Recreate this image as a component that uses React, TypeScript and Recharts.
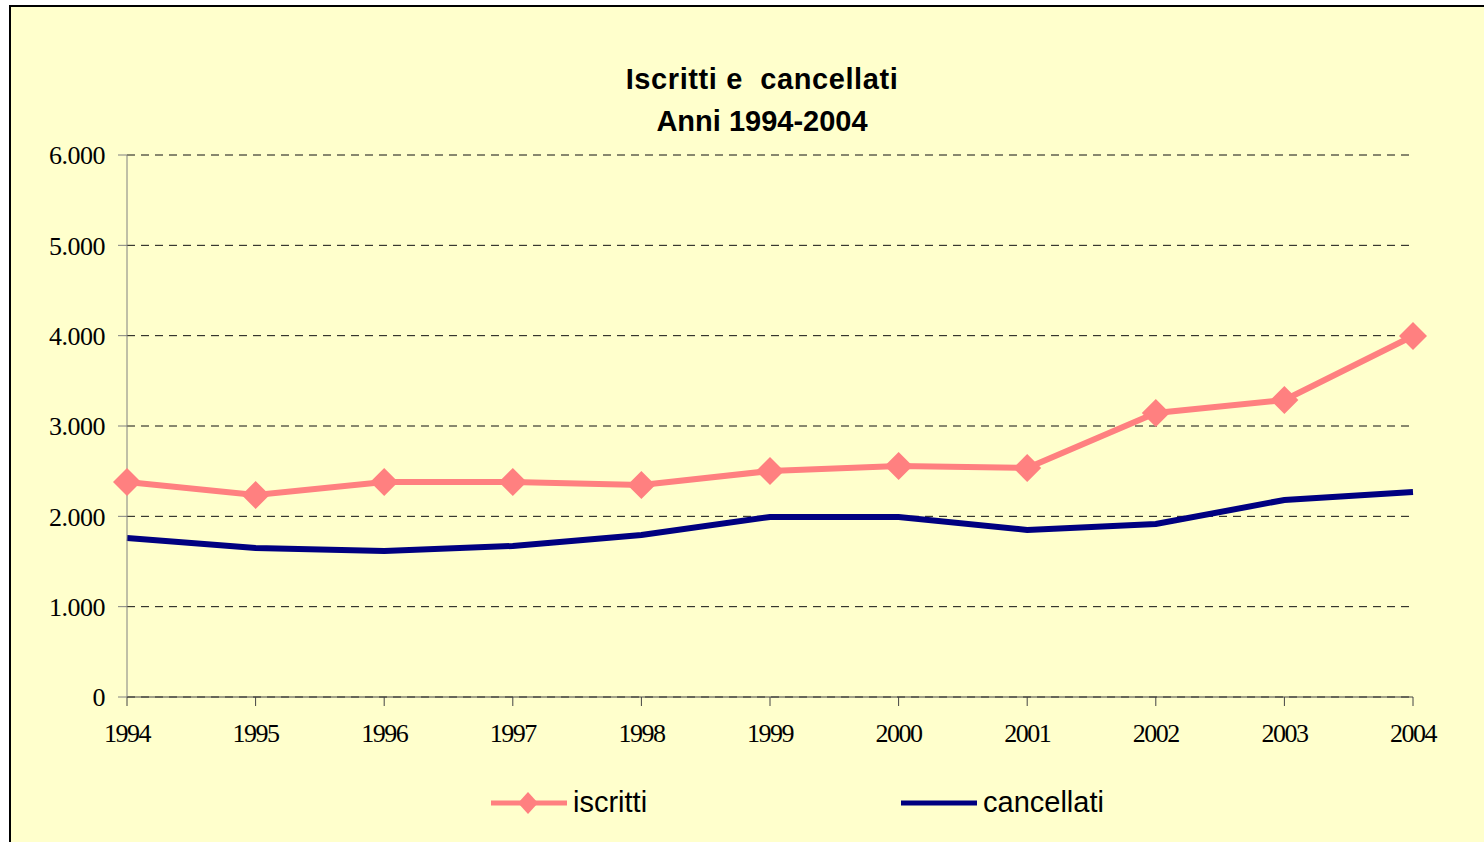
import React from "react";
import { LineChart, Line, XAxis, YAxis, CartesianGrid } from "recharts";

const years = ["1994", "1995", "1996", "1997", "1998", "1999", "2000", "2001", "2002", "2003", "2004"];
const iscritti = [2380, 2236, 2380, 2380, 2347, 2502, 2557, 2535, 3144, 3288, 3996];
const cancellati = [1760, 1650, 1616, 1672, 1793, 1993, 1993, 1849, 1915, 2181, 2270];
const yTicks = [0, 1000, 2000, 3000, 4000, 5000, 6000];

const data = years.map((year, i) => ({ year, iscritti: iscritti[i], cancellati: cancellati[i] }));

const PINK = "#FF8080";
const NAVY = "#000080";
const SERIF = "'Liberation Serif', 'Times New Roman', serif";
const SANS = "'Liberation Sans', Arial, sans-serif";

const fmt = (v: number) => (v === 0 ? "0" : v.toLocaleString("de-DE"));

const Diamond = (props: any) => {
  const { cx, cy, index } = props;
  if (cx == null || cy == null) return null;
  const r = 14;
  return (
    <path
      key={index}
      d={`M${cx},${cy - r} L${cx + r},${cy} L${cx},${cy + r} L${cx - r},${cy} Z`}
      fill={PINK}
    />
  );
};

export default function App() {
  return (
    <div style={{ position: "absolute", left: 0, top: 0, width: 1484, height: 842, overflow: "hidden", background: "#fff" }}>
      <div
        style={{
          position: "absolute",
          left: 9,
          top: 5,
          width: 1500,
          height: 860,
          border: "2px solid #000",
          background: "#FFFFCC",
        }}
      />
      <div
        style={{
          position: "absolute",
          left: 0,
          width: 1524,
          top: 58,
          textAlign: "center",
          fontFamily: SANS,
          fontWeight: "bold",
          fontSize: 29,
          lineHeight: "42px",
          whiteSpace: "pre",
          color: "#000",
        }}
      >
        <span style={{ letterSpacing: 0.6 }}>{"Iscritti e  cancellati"}</span>
        <br />
        {"Anni 1994-2004"}
      </div>
      <div style={{ position: "absolute", left: 0, top: 0 }}>
        <LineChart width={1484} height={842} data={data} margin={{ top: 155, right: 71, left: 67, bottom: 105 }}>
          <CartesianGrid vertical={false} stroke="#111" strokeDasharray="8 6" />
          <XAxis
            dataKey="year"
            height={40}
            stroke="#444"
            tickSize={9}
            tickMargin={18}
            interval={0}
            tick={{ fill: "#000", fontSize: 26, fontFamily: SERIF, letterSpacing: -1.5 }}
          />
          <YAxis
            width={60}
            domain={[0, 6000]}
            ticks={yTicks}
            tickFormatter={fmt}
            stroke="#808080"
            tickSize={9}
            tickMargin={13}
            interval={0}
            tick={{ fill: "#000", fontSize: 26, fontFamily: SERIF, letterSpacing: -0.5 }}
          />
          <Line
            dataKey="cancellati"
            stroke={NAVY}
            strokeWidth={6}
            dot={false}
            isAnimationActive={false}
          />
          <Line
            dataKey="iscritti"
            stroke={PINK}
            strokeWidth={6}
            dot={Diamond}
            activeDot={false}
            isAnimationActive={false}
          />
        </LineChart>
      </div>
      <div style={{ position: "absolute", left: 0, top: 0, fontFamily: SANS, fontSize: 29, color: "#000" }}>
        <svg style={{ position: "absolute", left: 0, top: 0 }} width={1484} height={842}>
          <line x1={491} y1={803} x2={567} y2={803} stroke={PINK} strokeWidth={5} />
          <path d="M528,792 L538,803 L528,814 L518,803 Z" fill={PINK} />
          <line x1={901} y1={803} x2={977} y2={803} stroke={NAVY} strokeWidth={5} />
        </svg>
        <div style={{ position: "absolute", left: 573, top: 785, whiteSpace: "nowrap", lineHeight: "34px" }}>iscritti</div>
        <div style={{ position: "absolute", left: 983, top: 785, whiteSpace: "nowrap", lineHeight: "34px" }}>cancellati</div>
      </div>
    </div>
  );
}
